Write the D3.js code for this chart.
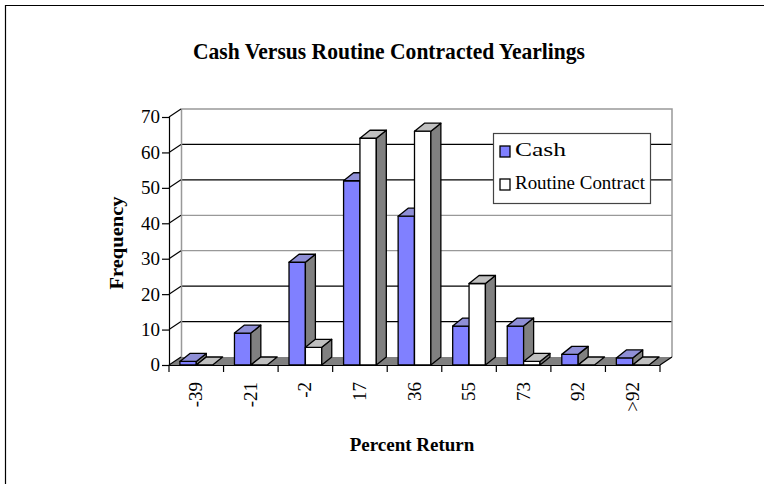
<!DOCTYPE html>
<html>
<head>
<meta charset="utf-8">
<script src="https://cdnjs.cloudflare.com/ajax/libs/d3/7.8.5/d3.min.js"></script>
<style>
  body { margin: 0; background: #fff; }
  svg { display: block; font-family: "Liberation Serif", "Times New Roman", serif; }
</style>
</head>
<body>
<svg width="764" height="484"></svg>
<script>
const categories = ["-39", "-21", "-2", "17", "36", "55", "73", "92", ">92"];
const cash = [1, 9, 29, 52, 42, 11, 11, 3, 2];
const routine = [0, 0, 5, 64, 66, 23, 1, 0, 0];
const seriesNames = ["Cash", "Routine Contract"];
const yTicks = [0, 10, 20, 30, 40, 50, 60, 70];

const colors = {
  Cash: { front: "#8080ff", top: "#8f8fd6", side: "#808080" },
  "Routine Contract": { front: "#ffffff", top: "#c0c0c0", side: "#808080" }
};

// 3d offsets
const depthX = 12, depthY = 8;   // floor / back wall
const barDX = 10, barDY = 8;     // bar depth

const svg = d3.select("svg");

// outer frame
svg.append("path")
  .attr("d", "M5.5,484 V5.5 H764")
  .attr("fill", "none")
  .attr("stroke", "#000")
  .attr("stroke-width", 1.2);

const x = d3.scaleBand().domain(categories).range([169, 660]);
const y = d3.scaleLinear().domain([0, 70]).range([365, 117]);
const bw = x.bandwidth() * 0.3;
const x1 = d3.scaleBand().domain(seriesNames).range([0, bw * 2]);

const x0 = 169, x9 = 660, y0 = y(0), yTop = y(70);

// back wall
svg.append("rect")
  .attr("x", x0 + depthX).attr("y", yTop - depthY)
  .attr("width", x9 - x0).attr("height", y0 - yTop)
  .attr("fill", "#fff");

// gridlines on back wall
const gridGray = [30, 40];
svg.append("g").selectAll("line")
  .data(yTicks.filter(d => d > 0 && d < 70))
  .join("line")
  .attr("x1", x0 + depthX).attr("x2", x9 + depthX)
  .attr("y1", d => y(d) - depthY).attr("y2", d => y(d) - depthY)
  .attr("stroke", d => gridGray.includes(d) ? "#999" : "#000")
  .attr("stroke-width", 1.2);

// wall edges
svg.append("path")
  .attr("d", `M${x0 + depthX + 0.5},${y0 - depthY} V${yTop - depthY} H${x9 + depthX} V${y0 - depthY}`)
  .attr("fill", "none")
  .attr("stroke", "#999")
  .attr("stroke-width", 1.5);

// floor
svg.append("path")
  .attr("d", `M${x0},${y0} L${x9},${y0} L${x9 + depthX},${y0 - depthY} L${x0 + depthX},${y0 - depthY} Z`)
  .attr("fill", "#808080");

// diagonals from axis to wall
svg.append("g").selectAll("line")
  .data(yTicks)
  .join("line")
  .attr("x1", x0).attr("y1", d => y(d))
  .attr("x2", x0 + depthX).attr("y2", d => y(d) - depthY)
  .attr("stroke", "#000")
  .attr("stroke-width", 1.2);

svg.append("line")
  .attr("x1", x9).attr("y1", y0)
  .attr("x2", x9 + depthX).attr("y2", y0 - depthY)
  .attr("stroke", "#000").attr("stroke-width", 1.2);

// bars
const bars = [];
categories.forEach((c, i) => {
  bars.push({ cat: c, s: "Cash", v: cash[i] });
  bars.push({ cat: c, s: "Routine Contract", v: routine[i] });
});

const barG = svg.append("g")
  .attr("stroke", "#000")
  .attr("stroke-width", 1.3)
  .attr("stroke-linejoin", "round");

bars.forEach(d => {
  const bx = x(d.cat) + x.bandwidth() * 0.2 + x1(d.s);
  const yt = y(d.v);
  const col = colors[d.s];
  const g = barG.append("g");
  if (d.v > 0) {
    g.append("rect")
      .attr("x", bx).attr("y", yt)
      .attr("width", bw).attr("height", y0 - yt)
      .attr("fill", col.front);
    g.append("path")
      .attr("d", `M${bx + bw},${yt} L${bx + bw + barDX},${yt - barDY} L${bx + bw + barDX},${y0 - barDY} L${bx + bw},${y0} Z`)
      .attr("fill", col.side);
  }
  g.append("path")
    .attr("d", `M${bx},${yt} L${bx + barDX},${yt - barDY} L${bx + bw + barDX},${yt - barDY} L${bx + bw},${yt} Z`)
    .attr("fill", d.v > 0 ? col.top : "#c0c0c0");
});

// y axis
const yAxis = svg.append("g")
  .attr("transform", `translate(${x0},0)`)
  .call(d3.axisLeft(y).tickValues(yTicks).tickSize(7).tickPadding(2))
  .attr("font-family", "Liberation Serif")
  .attr("font-size", 18);
yAxis.select(".domain").attr("stroke", "#000").attr("stroke-width", 1.2)
  .attr("d", `M0.5,${yTop} V${y0}`);
yAxis.selectAll(".tick line").attr("stroke", "#000").attr("stroke-width", 1.2);
yAxis.selectAll(".tick text")
  .attr("fill", "#000")
  .attr("dy", "0.33em")
  .attr("textLength", d => d === 0 ? 9.5 : 19)
  .attr("lengthAdjust", "spacingAndGlyphs");

// x axis
const xAxis = svg.append("g")
  .attr("transform", `translate(0,${y0})`)
  .call(d3.axisBottom(x).tickSize(0).tickPadding(0))
  .attr("font-family", "Liberation Serif");
xAxis.select(".domain").remove();
xAxis.selectAll(".tick").remove();
xAxis.append("line")
  .attr("x1", x0).attr("x2", x9)
  .attr("y1", 0.5).attr("y2", 0.5)
  .attr("stroke", "#000").attr("stroke-width", 1.2);
xAxis.append("g").selectAll("line")
  .data(d3.range(categories.length + 1))
  .join("line")
  .attr("x1", i => x0 + i * x.step()).attr("x2", i => x0 + i * x.step())
  .attr("y1", 0).attr("y2", 7)
  .attr("stroke", "#000").attr("stroke-width", 1.2);
xAxis.append("g").selectAll("text")
  .data(categories)
  .join("text")
  .attr("transform", d => `translate(${x(d) + x.bandwidth() / 2 + 6},17) rotate(-90)`)
  .attr("text-anchor", "end")
  .attr("font-size", 19)
  .attr("fill", "#000")
  .text(d => d);

// titles
svg.append("text")
  .attr("x", 389).attr("y", 59)
  .attr("text-anchor", "middle")
  .attr("font-size", 23)
  .attr("font-weight", "bold")
  .attr("textLength", 392)
  .attr("lengthAdjust", "spacingAndGlyphs")
  .text("Cash Versus Routine Contracted Yearlings");

svg.append("text")
  .attr("x", 412).attr("y", 451)
  .attr("text-anchor", "middle")
  .attr("font-size", 19)
  .attr("font-weight", "bold")
  .text("Percent Return");

svg.append("text")
  .attr("transform", "translate(123,243) rotate(-90)")
  .attr("text-anchor", "middle")
  .attr("font-size", 18)
  .attr("font-weight", "bold")
  .attr("textLength", 93)
  .attr("lengthAdjust", "spacingAndGlyphs")
  .text("Frequency");

// legend
const legend = svg.append("g").attr("transform", "translate(493,133)");
legend.append("rect")
  .attr("x", 0.5).attr("y", 0.5)
  .attr("width", 157).attr("height", 70)
  .attr("fill", "#fff")
  .attr("stroke", "#444")
  .attr("stroke-width", 1.2);
legend.selectAll("g.item")
  .data(seriesNames)
  .join("g")
  .attr("class", "item")
  .attr("transform", (d, i) => `translate(7,${13 + i * 33})`)
  .each(function (d) {
    const g = d3.select(this);
    g.append("rect")
      .attr("width", 10).attr("height", 11)
      .attr("fill", colors[d].front)
      .attr("stroke", "#000").attr("stroke-width", 1.3);
    g.append("text")
      .attr("x", 15).attr("y", 10)
      .attr("font-size", 18.5)
      .attr("textLength", d === "Cash" ? 51 : 130)
      .attr("lengthAdjust", "spacingAndGlyphs")
      .text(d);
  });
</script>
</body>
</html>
